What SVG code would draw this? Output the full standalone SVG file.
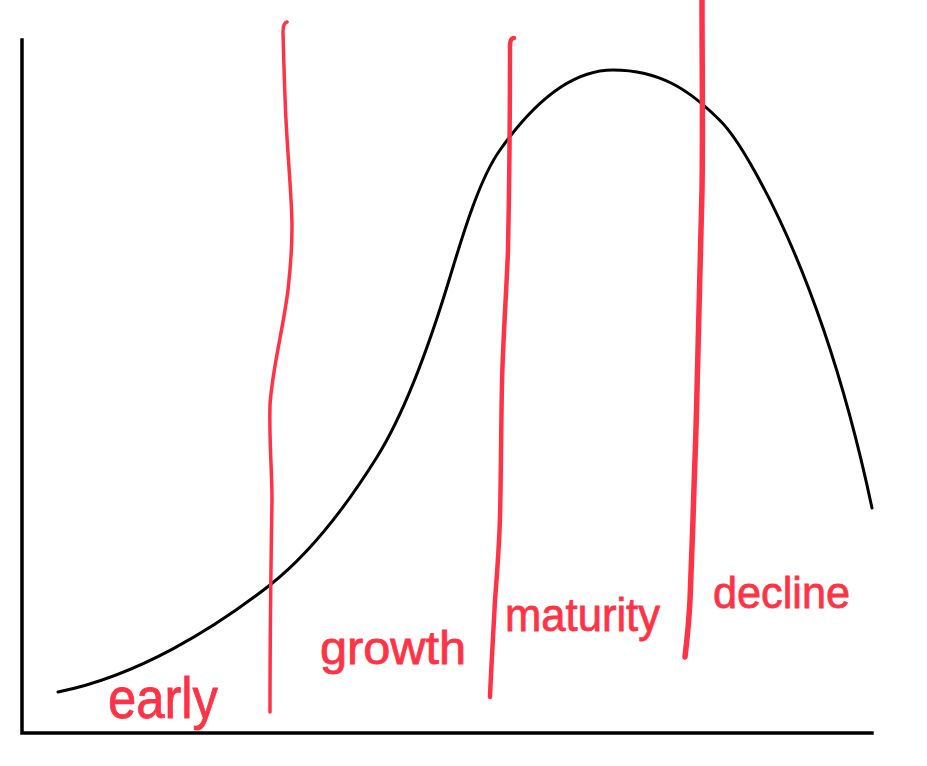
<svg xmlns="http://www.w3.org/2000/svg" width="927" height="766" viewBox="0 0 927 766">
<style>
.ax{fill:none;stroke:#000;stroke-width:3.5;stroke-linecap:square}
.cv{fill:none;stroke:#000;stroke-width:3;stroke-linecap:round}
.rl{fill:none;stroke:#ff3346;stroke-linecap:round;stroke-linejoin:round}
.lb{fill:#ff3346;stroke:#ff3346;stroke-width:0.8;font-family:"Liberation Sans",Arial,sans-serif;}
</style>
<rect width="927" height="766" fill="#fff"/>
<g id="axes">
<path class="ax" d="M22,40 L22,733 L872,733"/>
</g>
<g id="curve">
<path class="cv" d="M58,692 C138,676 215,628 270,585 C313,551 350.5,499.5 377,457 C408.8,406 432.6,334.6 450,277 C463,233.8 479.7,178.4 500,150 C529,109 568,70 613,70 C660,70 690,90 721.5,122 C732,133 741,147.5 750,163 C807.5,262.6 847,390 872,508"/>
</g>
<g id="dividers">
<path class="rl" style="stroke-width:3.5" d="M287,22 Q283,23 283,32 C284,70 285,100 286,120 C288,160 292,200 292,227 C292,250 290,272 288,290 C283,330 272,370 270,405 C269,440 272,470 272,500 C271,560 270,640 270,712"/>
<path class="rl" style="stroke-width:4.5" d="M514,38 Q510,38 510,46 C510,120 509,200 508,250 C506,300 503,340 502,383 C501,430 501,480 500,517 C499,550 497,575 495,600 C493,640 491,670 490,697"/>
<path class="rl" style="stroke-width:5.5" d="M702,0 C702,60 703,130 702,190 C700,260 698,330 697,390 C696,440 694,480 693,520 C692,550 691,580 690,600 C689,620 687,640 685,657"/>
</g>
<g id="labels">
<text class="lb" x="108" y="718" font-size="58" textLength="110" lengthAdjust="spacingAndGlyphs">early</text>
<text class="lb" x="320" y="664" font-size="46" textLength="146" lengthAdjust="spacingAndGlyphs">growth</text>
<text class="lb" x="505" y="631" font-size="46" textLength="155" lengthAdjust="spacingAndGlyphs">maturity</text>
<text class="lb" x="713" y="608" font-size="44" textLength="137" lengthAdjust="spacingAndGlyphs">decline</text>
</g>
</svg>
